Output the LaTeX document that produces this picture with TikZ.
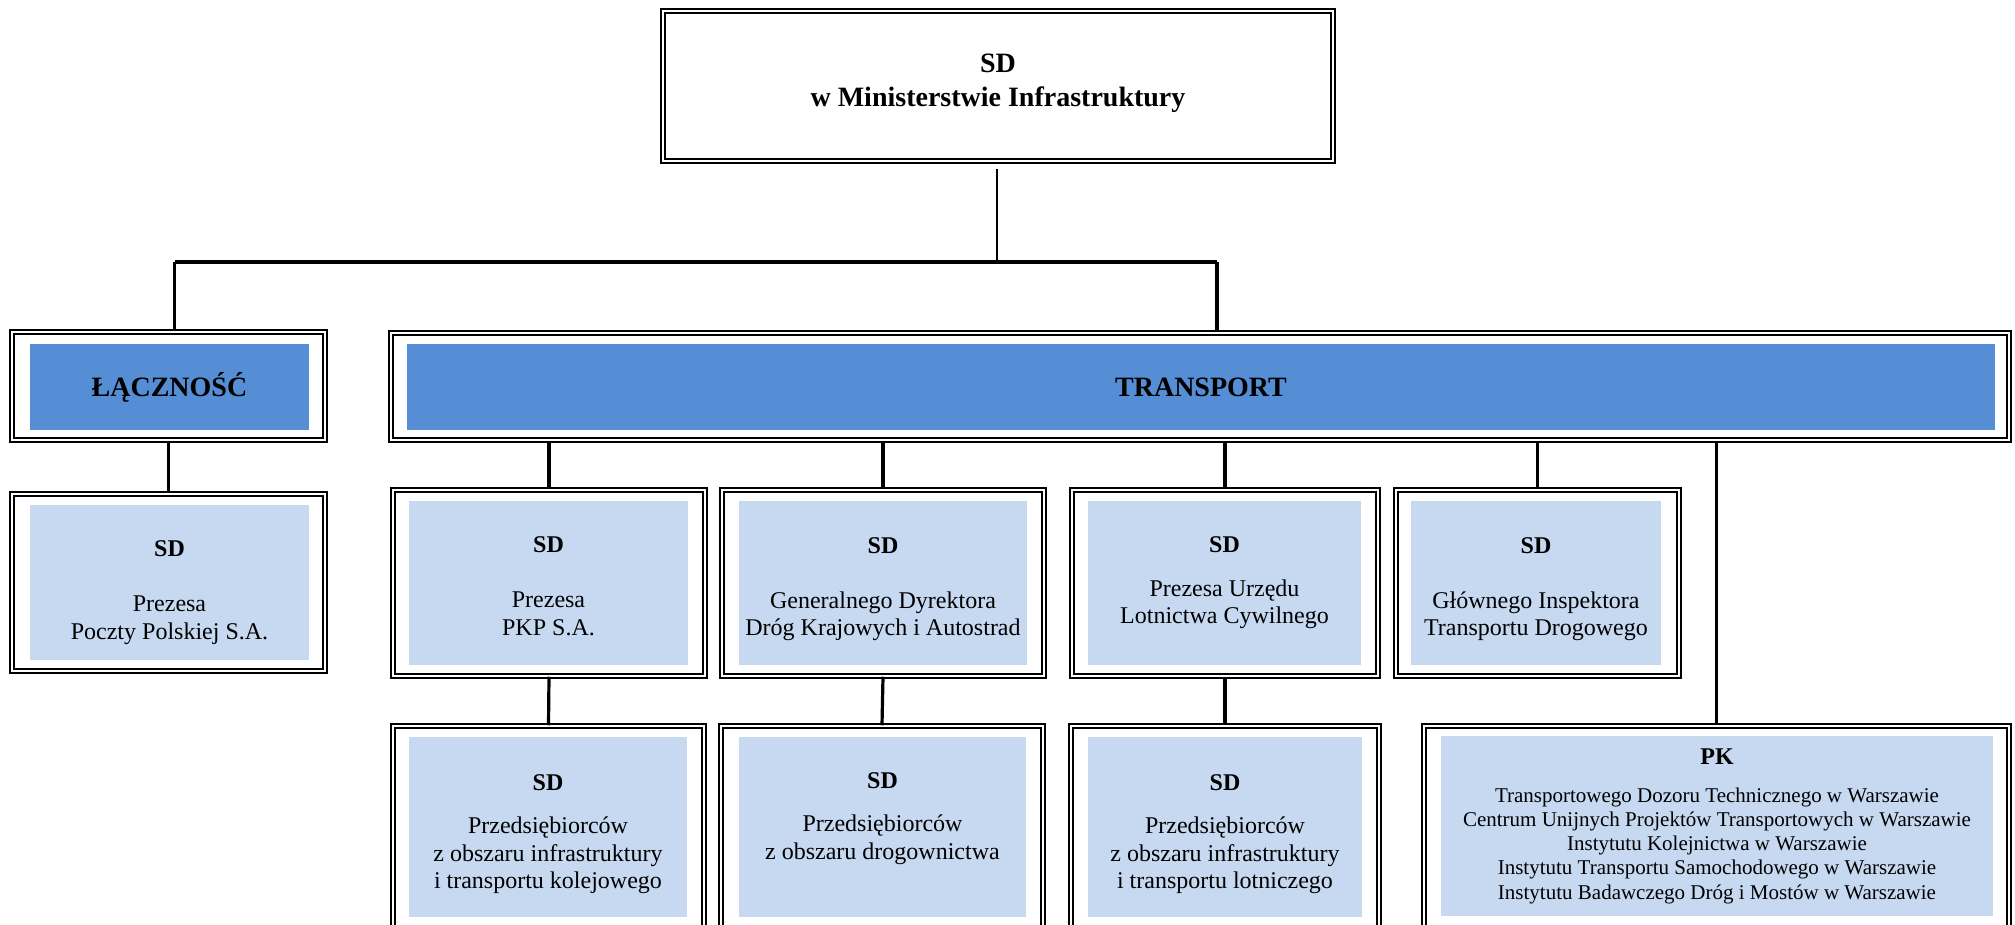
\documentclass[tikz,border=0pt]{standalone}
\usepackage{fontspec}
\setmainfont{Liberation Serif}
\definecolor{headblue}{RGB}{85,142,213}
\definecolor{cellblue}{RGB}{198,217,241}
\tikzset{
    dblbox/.style={
        draw,
        double,
        line width=0.75pt,
        double distance=1.2pt,
        rectangle,
        inner sep=0pt
    },
    % wypelnienia w srodku ramek
    headfill/.style={
        fill=headblue,
        inner sep=0pt,
        align=center,
        font=\fontsize{14}{16}\selectfont\bfseries
    },
    cellfill/.style={
        fill=cellblue,
        inner sep=0pt,
        align=center,
        font=\fontsize{12}{13.8}\selectfont
    },
    link/.style={
        line width=1.6pt,
        black
    }
}
\newcommand{\up}[1]{\rule{0pt}{#1}}
\begin{document}
\begin{tikzpicture}[x=0.5pt,y=-0.5pt]
    \useasboundingbox (0,0) rectangle (2015,925);
    \clip (0,0) rectangle (2015,925);
    % ramki
    \node[dblbox,minimum width=335pt,minimum height=75pt,align=center,font=\fontsize{14}{17}\selectfont\bfseries] (top) at (998,86) {SD\\w Ministerstwie Infrastruktury\\[-11pt]\mbox{}};
    \node[dblbox,minimum width=156.5pt,minimum height=54pt] (lacz) at (168.5,386) {};
    \node[dblbox,minimum width=809pt,minimum height=53.5pt] (trans) at (1200,386.5) {};
    \node[dblbox,minimum width=156.5pt,minimum height=88.5pt] (poczta) at (168.5,582.5) {};
    \node[dblbox,minimum width=156pt,minimum height=93pt] (pkp) at (549,583) {};
    \node[dblbox,minimum width=161pt,minimum height=93pt] (gddkia) at (883,583) {};
    \node[dblbox,minimum width=153pt,minimum height=93pt] (ulc) at (1225,583) {};
    \node[dblbox,minimum width=141.5pt,minimum height=93pt] (gitd) at (1537.5,583) {};
    \node[dblbox,minimum width=155.5pt,minimum height=103.5pt] (kolej) at (548.5,829.5) {};
    \node[dblbox,minimum width=161pt,minimum height=103.5pt] (drogi) at (882,829.5) {};
    \node[dblbox,minimum width=154pt,minimum height=103.5pt] (lotn) at (1225,829.5) {};
    \node[dblbox,minimum width=292.5pt,minimum height=103.5pt] (pk) at (1716.5,829.5) {};

    \node[headfill,minimum width=139.5pt,minimum height=43pt] (lacz-in) at (169.5,387) {ŁĄCZNOŚĆ};
    \node[headfill,minimum width=794pt,minimum height=43pt] (trans-in) at (1201,387) {TRANSPORT};
    \node[cellfill,minimum width=139.5pt,minimum height=77.5pt] (poczta-in) at (169.5,582.5) {\up{18pt}\textbf{SD}\\[13.8pt]Prezesa\\Poczty Polskiej S.A.};
    \node[cellfill,minimum width=139.5pt,minimum height=82pt] (pkp-in) at (548.5,583) {\up{11pt}\textbf{SD}\\[13.8pt]Prezesa\\PKP S.A.};
    \node[cellfill,minimum width=144pt,minimum height=82pt] (gddkia-in) at (883,583) {\up{14pt}\textbf{SD}\\[13.8pt]Generalnego Dyrektora\\Dróg Krajowych i Autostrad};
    \node[cellfill,minimum width=136.5pt,minimum height=82pt] (ulc-in) at (1224.5,583) {\textbf{SD}\\[8pt]Prezesa Urzędu\\Lotnictwa Cywilnego};
    \node[cellfill,minimum width=125pt,minimum height=82pt] (gitd-in) at (1536,583) {\up{14pt}\textbf{SD}\\[13.8pt]Głównego Inspektora\\Transportu Drogowego};
    \node[cellfill,minimum width=139pt,minimum height=90pt] (kolej-in) at (548,827) {\up{15pt}\textbf{SD}\\[8pt]Przedsiębiorców\\z obszaru infrastruktury\\i transportu kolejowego};
    \node[cellfill,minimum width=143.5pt,minimum height=90pt] (drogi-in) at (882.5,827) {\up{10.5pt}\textbf{SD}\\[8pt]Przedsiębiorców\\z obszaru drogownictwa\\\mbox{}};
    \node[cellfill,minimum width=137pt,minimum height=90pt] (lotn-in) at (1225,827) {\up{15pt}\textbf{SD}\\[8pt]Przedsiębiorców\\z obszaru infrastruktury\\i transportu lotniczego};
    \node[cellfill,minimum width=276pt,minimum height=90pt,font=\fontsize{10.5}{12.1}\selectfont] (pk-in) at (1717,826) {{\fontsize{12}{12}\selectfont\bfseries PK}\\[7pt]Transportowego Dozoru Technicznego w Warszawie\\Centrum Unijnych Projektów Transportowych w Warszawie\\Instytutu Kolejnictwa w Warszawie\\Instytutu Transportu Samochodowego w Warszawie\\Instytutu Badawczego Dróg i Mostów w Warszawie};

    % polaczenia
    \coordinate (bus) at (997,262);
    \draw[link,line width=1.1pt] (top.south) ++(-1,7) -- (bus);
    \draw[link,line width=1.9pt] ([xshift=3pt]lacz.north |- bus) -- ([xshift=8.5pt]trans.north |- bus);
    \draw[link] ([xshift=3pt]lacz.north |- bus) -- ([xshift=3pt]lacz.north);
    \draw[link] ([xshift=8.5pt]trans.north |- bus) -- ([xshift=8.5pt]trans.north);
    \draw[link] (lacz.south) -- (poczta.north);
    \foreach \n in {pkp,gddkia,ulc,gitd,pk}
        \draw[link] (trans.south -| \n.north) -- (\n.north);
    \draw[link] (pkp.south) -- (kolej.north);
    \draw[link] (gddkia.south) -- (drogi.north);
    \draw[link] (ulc.south) -- (lotn.north);
\end{tikzpicture}
\end{document}
